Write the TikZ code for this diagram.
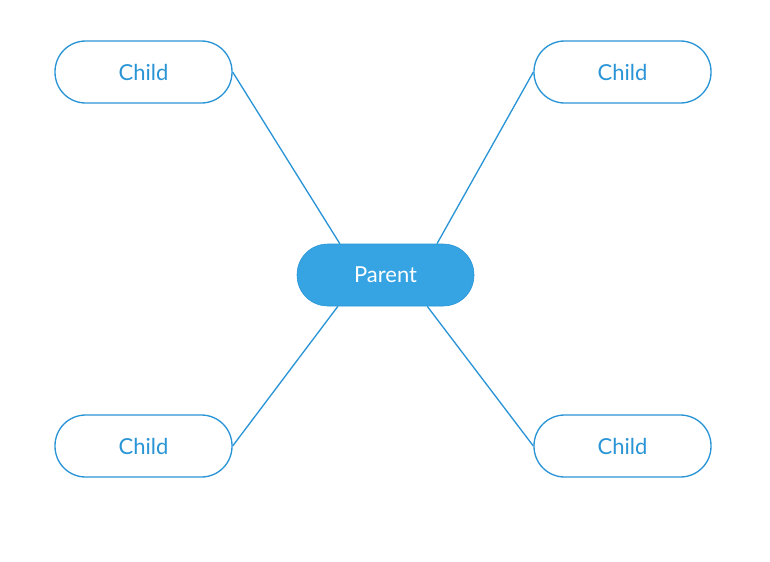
\documentclass[tikz,border=0pt]{standalone}
\usepackage{fontspec}
\setmainfont{Lato}
\usetikzlibrary{calc}
\definecolor{mapblue}{HTML}{36A3E3}
\definecolor{mapline}{HTML}{2A95D6}
\tikzset{
    parentbox/.style={draw=mapline,fill=mapblue,text=white,rounded corners=23pt,minimum width=132.75pt,minimum height=46.5pt,inner sep=0pt,font=\fontsize{16.5}{19}\selectfont},
    childbox/.style={draw=mapline,fill=white,text=mapline,rounded corners=23pt,minimum width=132.75pt,minimum height=46.5pt,inner sep=0pt,line width=1pt,font=\fontsize{16.5}{19}\selectfont},
    branch/.style={draw=mapline,line width=1pt}
}
\begin{document}
\begin{tikzpicture}[x=0.75pt,y=-0.75pt]
        \useasboundingbox (0,0) rectangle (770,561);
        \coordinate (p) at (385.5,275);
        \coordinate (c1) at (143.5,72);
        \coordinate (c2) at (622.5,72);
        \coordinate (c3) at (143.5,446);
        \coordinate (c4) at (622.5,446);

        \node[parentbox] (Parent) at (p){Parent};
        \node[childbox] (ChildTL) at (c1){Child};
        \node[childbox] (ChildTR) at (c2){Child};
        \node[childbox] (ChildBL) at (c3){Child};
        \node[childbox] (ChildBR) at (c4){Child};

        \draw[branch] (ChildTL.east) -- ($(Parent.north west)!0.243!(Parent.north east)$);
        \draw[branch] (ChildTR.west) -- ($(Parent.north west)!0.79!(Parent.north east)$);
        \draw[branch] (ChildBL.east) -- ($(Parent.south west)!0.232!(Parent.south east)$);
        \draw[branch] (ChildBR.west) -- ($(Parent.south west)!0.735!(Parent.south east)$);
    \end{tikzpicture}
\end{document}
